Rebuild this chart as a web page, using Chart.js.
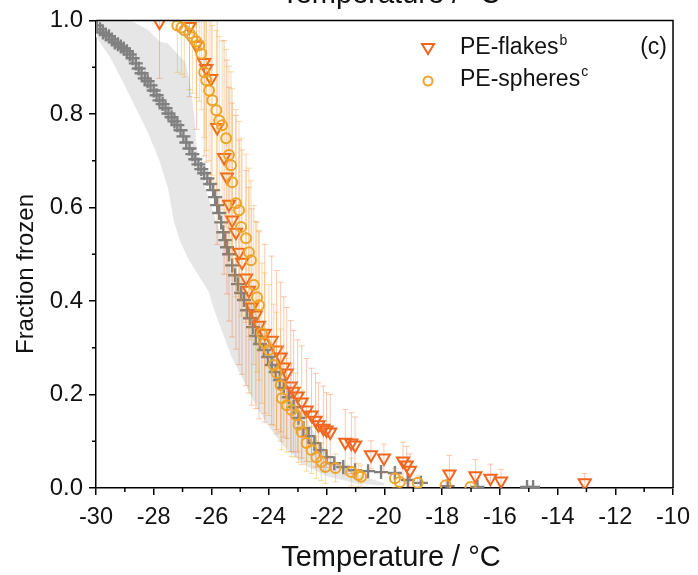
<!DOCTYPE html>
<html>
<head>
<meta charset="utf-8">
<script src="https://cdn.jsdelivr.net/npm/chart.js@4.4.0/dist/chart.umd.min.js"></script>
<style>
  html, body { margin: 0; padding: 0; background: #fff; }
  #wrap { width: 698px; height: 575px; }
</style>
</head>
<body>
<div id="wrap"><canvas id="chartFrozen" width="698" height="575"></canvas></div>
<script>
/* Данные */

// серая полоса (диапазон фоновых кривых): тёплая и холодная границы
var bandWarmT = [-30, -28.8, -28.2, -27.8, -27.5, -27.2, -26.9, -26.75, -26.6, -26.5, -26.3, -26.0, -25.6, -25.1, -24.5, -23.8, -23.3, -22.8, -22.3, -21.8, -21.0, -20.0];
var bandWarmF = [1.0, 1.0, 0.98, 0.955, 0.95, 0.93, 0.91, 0.87, 0.80, 0.72, 0.66, 0.60, 0.53, 0.46, 0.38, 0.30, 0.23, 0.16, 0.10, 0.06, 0.03, 0.01];
var bandColdT = [-30, -29.5, -29.0, -28.6, -28.2, -27.8, -27.5, -27.3, -27.1, -26.8, -26.4, -26.1, -25.9, -25.6, -25.3, -24.8, -24.4, -24.0, -23.5, -22.8, -22.0, -21.0, -20.0];
var bandColdF = [0.965, 0.92, 0.86, 0.81, 0.76, 0.70, 0.64, 0.57, 0.53, 0.49, 0.45, 0.42, 0.38, 0.33, 0.28, 0.22, 0.17, 0.13, 0.09, 0.05, 0.025, 0.01, 0.005];

// серые кресты (фон)
var bgT = [-29.97, -29.86, -29.76, -29.66, -29.55, -29.45, -29.35, -29.24, -29.14, -29.04,
           -28.93, -28.83, -28.73, -28.62, -28.52, -28.42, -28.31, -28.21, -28.11, -28.00,
           -27.90, -27.80, -27.69, -27.59, -27.49, -27.38, -27.28, -27.18, -27.07, -26.97,
           -26.87, -26.76, -26.66, -26.56, -26.45, -26.35, -26.25, -26.14, -26.04, -25.94,
           -25.87, -25.80, -25.73, -25.66, -25.59, -25.52, -25.46, -25.39, -25.28, -25.18,
           -25.08, -24.97, -24.87, -24.77, -24.66, -24.56, -24.46, -24.32, -24.18, -24.04,
           -23.91, -23.77, -23.63, -23.49, -23.32, -23.15, -22.98, -22.81, -22.63, -22.43,
           -22.22, -22.01, -21.74, -21.43, -21.02, -20.57, -20.12, -19.64, -19.19, -18.74,
           -17.81, -16.78, -15.06, -14.85];
var bgF = [0.989, 0.981, 0.974, 0.970, 0.966, 0.959, 0.953, 0.949, 0.944, 0.940,
           0.934, 0.927, 0.919, 0.908, 0.897, 0.887, 0.876, 0.870, 0.861, 0.850,
           0.840, 0.829, 0.821, 0.812, 0.801, 0.793, 0.784, 0.776, 0.765, 0.752,
           0.739, 0.726, 0.714, 0.703, 0.692, 0.682, 0.673, 0.662, 0.650, 0.637,
           0.622, 0.605, 0.588, 0.568, 0.547, 0.530, 0.515, 0.500, 0.476, 0.455,
           0.436, 0.417, 0.402, 0.380, 0.363, 0.344, 0.325, 0.308, 0.295, 0.280,
           0.263, 0.248, 0.231, 0.214, 0.194, 0.173, 0.150, 0.128, 0.111, 0.096,
           0.081, 0.066, 0.053, 0.045, 0.038, 0.036, 0.034, 0.032, 0.017, 0.011,
           0.004, 0.002, 0.002, 0.002];

// PE-flakes (треугольники)
var flakesT = [-27.80, -26.76, -26.52, -26.25, -26.18, -26.01, -25.80, -25.56, -25.46, -25.39,
               -25.28, -25.15, -25.04, -24.94, -24.80, -24.70, -24.60, -24.46, -24.35, -24.15,
               -23.91, -23.74, -23.60, -23.49, -23.39, -23.25, -23.15, -23.01, -22.87, -22.70,
               -22.53, -22.39, -22.29, -22.12, -22.01, -21.88, -21.36, -21.15, -21.02, -20.47,
               -20.02, -19.36, -19.23, -19.12, -17.75, -16.85, -16.33, -15.96, -13.06];
var flakesF = [0.996, 0.987, 0.947, 0.910, 0.897, 0.876, 0.771, 0.707, 0.665, 0.607,
               0.573, 0.547, 0.504, 0.483, 0.449, 0.423, 0.387, 0.370, 0.348, 0.331,
               0.316, 0.295, 0.280, 0.259, 0.246, 0.218, 0.207, 0.197, 0.184, 0.167,
               0.156, 0.145, 0.135, 0.128, 0.124, 0.120, 0.098, 0.096, 0.092, 0.071,
               0.064, 0.058, 0.049, 0.038, 0.030, 0.026, 0.021, 0.015, 0.011];
var flakesErr = [0.12, 0.15, 0.18, 0.2, 0.2, 0.22, 0.25, 0.25, 0.25, 0.25,
                 0.25, 0.25, 0.24, 0.24, 0.23, 0.22, 0.21, 0.2, 0.2, 0.19,
                 0.18, 0.17, 0.16, 0.15, 0.14, 0.14, 0.13, 0.12, 0.12, 0.11,
                 0.1, 0.1, 0.09, 0.09, 0.08, 0.08, 0.07, 0.065, 0.06, 0.03,
                 0.03, 0.04, 0.04, 0.035, 0.04, 0.035, 0.03, 0.025, 0.02];

// PE-spheres (кружки)
var spheresT = [-27.18, -27.04, -26.94, -26.76, -26.66, -26.52, -26.42, -26.35, -26.25, -26.18,
                -26.08, -25.97, -25.83, -25.73, -25.63, -25.49, -25.39, -25.32, -25.28, -25.15,
                -25.04, -24.97, -24.80, -24.70, -24.63, -24.53, -24.42, -24.35, -24.25, -24.15,
                -24.01, -23.84, -23.74, -23.60, -23.56, -23.39, -23.22, -23.08, -22.98, -22.87,
                -22.70, -22.53, -22.36, -22.19, -22.05, -21.70, -21.15, -20.91, -20.81, -19.64,
                -19.47, -18.85, -17.88, -17.02];
var spheresF = [0.989, 0.985, 0.979, 0.972, 0.964, 0.955, 0.947, 0.929, 0.889, 0.872,
                0.850, 0.829, 0.808, 0.786, 0.776, 0.748, 0.712, 0.690, 0.654, 0.609,
                0.594, 0.558, 0.534, 0.504, 0.487, 0.434, 0.408, 0.391, 0.331, 0.310,
                0.295, 0.263, 0.246, 0.220, 0.192, 0.177, 0.167, 0.156, 0.135, 0.120,
                0.096, 0.081, 0.066, 0.056, 0.045, 0.043, 0.034, 0.028, 0.024, 0.021,
                0.013, 0.011, 0.006, 0.002];
var spheresErr = [0.1, 0.1, 0.1, 0.12, 0.12, 0.12, 0.12, 0.12, 0.14, 0.15,
                  0.15, 0.16, 0.17, 0.18, 0.18, 0.19, 0.19, 0.2, 0.2, 0.2,
                  0.19, 0.19, 0.18, 0.18, 0.17, 0.17, 0.16, 0.16, 0.15, 0.15,
                  0.14, 0.13, 0.13, 0.12, 0.11, 0.1, 0.1, 0.09, 0.08, 0.07,
                  0.06, 0.05, 0.045, 0.04, 0.035, 0.03, 0.03, 0.025, 0.025, 0.02,
                  0.015, 0.015, 0.01, 0.01];

var xTitle = 'Temperature / °C';
var yTitle = 'Fraction frozen';

var FONT = '"Liberation Sans", Arial, sans-serif';
var FLAKES_COLOR = '#f2651f';
var SPHERES_COLOR = '#eea42a';

function toPoints(xs, ys) {
    var pts = [];
    for (var i = 0; i < xs.length; i++) pts.push({x: xs[i], y: ys[i]});
    return pts;
}

// Вертикальные усы погрешностей рисуются перед маркерами своего набора
var errorBars = {
    id: 'errorBars',
    beforeDatasetDraw: function (chart, args) {
        var ds = chart.data.datasets[args.index];
        if (!ds.errY) return;
        var ctx = chart.ctx, a = chart.chartArea;
        var sx = chart.scales.x, sy = chart.scales.y;
        ctx.save();
        ctx.beginPath();
        ctx.rect(a.left, a.top, a.right - a.left, a.bottom - a.top);
        ctx.clip();
        ctx.strokeStyle = ds.errColor;
        ctx.lineWidth = 1;
        ds.data.forEach(function (p, i) {
            var x = sx.getPixelForValue(p.x);
            var y1 = sy.getPixelForValue(p.y + ds.errY[i]);
            var y2 = sy.getPixelForValue(p.y - ds.errY[i]);
            ctx.beginPath();
            ctx.moveTo(x, y1); ctx.lineTo(x, y2);
            ctx.moveTo(x - 3, y1); ctx.lineTo(x + 3, y1);
            ctx.moveTo(x - 3, y2); ctx.lineTo(x + 3, y2);
            ctx.stroke();
        });
        ctx.restore();
    }
};

// Рамка, малые деления, подписи осей и легенда
var decor = {
    id: 'decor',
    afterDraw: function (chart) {
        var ctx = chart.ctx, a = chart.chartArea;
        var sx = chart.scales.x, sy = chart.scales.y;
        ctx.save();
        ctx.strokeStyle = '#000';
        ctx.lineWidth = 1.5;
        ctx.beginPath();
        ctx.moveTo(a.left, a.top); ctx.lineTo(a.right, a.top); ctx.lineTo(a.right, a.bottom);
        ctx.stroke();

        // малые деления между основными
        ctx.beginPath();
        for (var i = 0; i < sx.ticks.length - 1; i++) {
            var mx = sx.getPixelForValue((sx.ticks[i].value + sx.ticks[i + 1].value) / 2);
            ctx.moveTo(mx, a.bottom); ctx.lineTo(mx, a.bottom + 4);
        }
        for (var j = 0; j < sy.ticks.length - 1; j++) {
            var my = sy.getPixelForValue((sy.ticks[j].value + sy.ticks[j + 1].value) / 2);
            ctx.moveTo(a.left, my); ctx.lineTo(a.left - 4, my);
        }
        ctx.stroke();

        // подписи осей
        ctx.fillStyle = '#111';
        ctx.textAlign = 'center';
        ctx.textBaseline = 'alphabetic';
        ctx.font = '29px ' + FONT;
        ctx.fillText(xTitle, 391, 566);
        ctx.fillText(xTitle, 391, 3);   // обрезанная подпись верхнего графика
        ctx.save();
        ctx.translate(33, 274);
        ctx.rotate(-Math.PI / 2);
        ctx.font = '24px ' + FONT;
        ctx.fillText(yTitle, 0, 0);
        ctx.restore();

        // легенда
        ctx.lineWidth = 2;
        ctx.strokeStyle = FLAKES_COLOR;
        ctx.beginPath();
        ctx.moveTo(422, 44); ctx.lineTo(434, 44); ctx.lineTo(428, 54); ctx.closePath();
        ctx.stroke();
        ctx.strokeStyle = SPHERES_COLOR;
        ctx.beginPath();
        ctx.arc(428, 81, 4.5, 0, Math.PI * 2);
        ctx.stroke();

        ctx.textAlign = 'left';
        ctx.font = '23px ' + FONT;
        ctx.fillText('PE-flakes', 460, 54);
        var w1 = ctx.measureText('PE-flakes').width;
        ctx.fillText('PE-spheres', 460, 86);
        var w2 = ctx.measureText('PE-spheres').width;
        ctx.font = '14px ' + FONT;
        ctx.fillText('b', 460 + w1 + 1, 45);
        ctx.fillText('c', 460 + w2 + 1, 76);
        ctx.font = '23px ' + FONT;
        ctx.textAlign = 'right';
        ctx.fillText('(c)', 667, 54);
        ctx.restore();
    }
};

var ourCanvas = document.getElementById('chartFrozen');

var frozenChart = new Chart(ourCanvas, {
    type: 'scatter',
    data: {
        datasets: [
            {
                label: 'band warm',
                data: toPoints(bandWarmT, bandWarmF),
                showLine: true,
                borderWidth: 0,
                pointRadius: 0,
                backgroundColor: '#e6e6e6',
                fill: '+1',
                order: 10
            },
            {
                label: 'band cold',
                data: toPoints(bandColdT, bandColdF),
                showLine: true,
                borderWidth: 0,
                pointRadius: 0,
                fill: false,
                order: 10
            },
            {
                label: 'background',
                data: toPoints(bgT, bgF),
                pointStyle: 'cross',
                pointRadius: 7,
                borderWidth: 2.4,
                borderColor: '#808080',
                order: 5
            },
            {
                label: 'PE-flakes',
                data: toPoints(flakesT, flakesF),
                errY: flakesErr,
                errColor: 'rgba(242, 101, 31, 0.35)',
                pointStyle: 'triangle',
                rotation: 180,
                pointRadius: 7,
                borderWidth: 2,
                borderColor: FLAKES_COLOR,
                backgroundColor: 'rgba(255,255,255,0)',
                order: 2
            },
            {
                label: 'PE-spheres',
                data: toPoints(spheresT, spheresF),
                errY: spheresErr,
                errColor: 'rgba(238, 164, 42, 0.4)',
                pointStyle: 'circle',
                pointRadius: 5,
                borderWidth: 2,
                borderColor: SPHERES_COLOR,
                backgroundColor: 'rgba(255,255,255,0)',
                order: 1
            }
        ]
    },
    options: {
        responsive: false,
        animation: false,
        devicePixelRatio: 1,
        layout: { padding: { left: 0, right: 21, top: 20, bottom: 0 } },
        plugins: {
            legend: { display: false },
            tooltip: { enabled: false }
        },
        scales: {
            x: {
                type: 'linear',
                min: -30,
                max: -10,
                afterFit: function (s) { s.height = 87; },
                border: { display: true, color: '#000', width: 1.5 },
                grid: { drawOnChartArea: false, drawTicks: true, tickLength: 7, color: '#000', lineWidth: 1.5 },
                ticks: {
                    stepSize: 2,
                    autoSkip: false,
                    maxRotation: 0,
                    padding: 8,
                    color: '#111',
                    font: { family: FONT, size: 23.5 }
                }
            },
            y: {
                type: 'linear',
                min: 0,
                max: 1,
                afterFit: function (s) { s.width = 96; },
                border: { display: true, color: '#000', width: 1.5 },
                grid: { drawOnChartArea: false, drawTicks: true, tickLength: 7, color: '#000', lineWidth: 1.5 },
                ticks: {
                    stepSize: 0.2,
                    padding: 6,
                    color: '#111',
                    font: { family: FONT, size: 24 },
                    callback: function (v) { return v.toFixed(1); }
                }
            }
        }
    },
    plugins: [errorBars, decor]
});
</script>
</body>
</html>
